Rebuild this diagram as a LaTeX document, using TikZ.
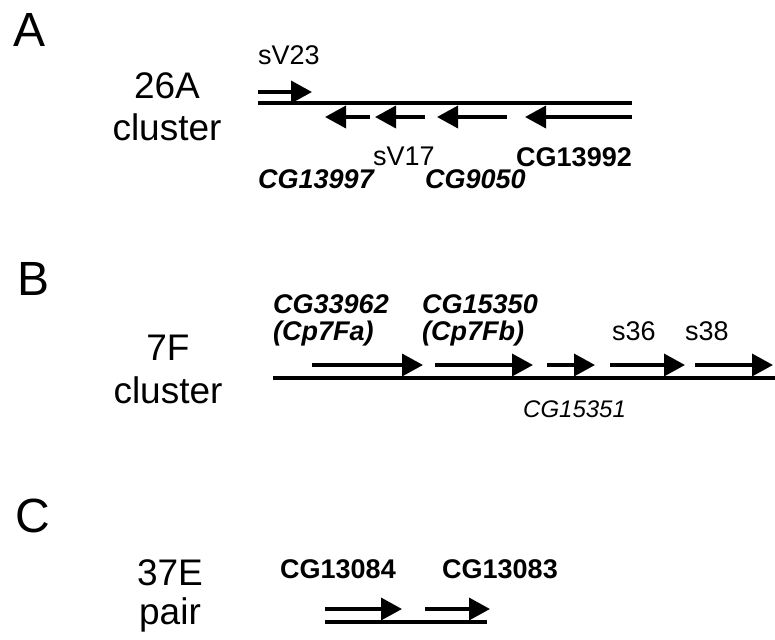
\documentclass[tikz,border=0pt]{standalone}
\usepackage{fontspec}
\setmainfont{Liberation Sans}
\usetikzlibrary{arrows.meta}

\begin{document}
\begin{tikzpicture}[
        x=1pt,
        y=-1pt,
        track/.style={line width=3.6pt},
        gene/.style={line width=3.6pt, -{Triangle[length=21pt,width=22pt]}},
        panel/.style={anchor=base west, inner sep=0pt, font=\fontsize{48}{50}\selectfont},
        locus/.style={anchor=base, inner sep=0pt, font=\fontsize{37}{40}\selectfont},
        lbl/.style={inner sep=0pt, font=\fontsize{27}{30}\selectfont}
    ]
    \useasboundingbox (0,0) rectangle (775,639);

    % Panel A
    \node[panel] (pA) at (13,47) {A};
    \node[locus] (a26) at (167,99) {26A};
    \node[locus] (acl) at (167,141) {cluster};
    \node[lbl, anchor=base west] (sv23) at (258,65) {sV23};
    \draw[gene] (258,92) -- (312,92);
    \draw[track] (258,103) -- (632,103);
    \draw[gene] (370,117) -- (325,117);
    \draw[gene] (425,117) -- (375,117);
    \draw[gene] (507,117) -- (437,117);
    \draw[gene] (632,117) -- (525,117);
    \node[lbl, anchor=base west] (sv17) at (373,165) {sV17};
    \node[lbl, anchor=base east] (cg13992) at (632,166) {\textbf{CG13992}};
    \node[lbl, anchor=base west] (cg13997) at (258,188) {\textbf{\textit{CG13997}}};
    \node[lbl, anchor=base west] (cg9050) at (425,188) {\textbf{\textit{CG9050}}};

    % Panel B
    \node[panel] (pB) at (17,295) {B};
    \node[locus] (b7f) at (168,360) {7F};
    \node[locus] (bcl) at (168,403) {cluster};
    \node[lbl, anchor=base west] (cg33962) at (273,313) {\textbf{\textit{CG33962}}};
    \node[lbl, anchor=base west] (cp7fa) at (273,340) {\textbf{\textit{(Cp7Fa)}}};
    \node[lbl, anchor=base west] (cg15350) at (422,313) {\textbf{\textit{CG15350}}};
    \node[lbl, anchor=base west] (cp7fb) at (422,340) {\textbf{\textit{(Cp7Fb)}}};
    \node[lbl, anchor=base west] (s36) at (612,340) {s36};
    \node[lbl, anchor=base west] (s38) at (685,340) {s38};
    \draw[gene] (312,365) -- (423,365);
    \draw[gene] (435,365) -- (533,365);
    \draw[gene] (547,365) -- (595,365);
    \draw[gene] (610,365) -- (685,365);
    \draw[gene] (695,365) -- (773,365);
    \draw[track] (273,378) -- (775,378);
    \node[lbl, anchor=base west, font=\fontsize{24}{26}\selectfont\itshape] (cg15351) at (523,417) {CG15351};

    % Panel C
    \node[panel] (pC) at (15,532) {C};
    \node[locus] (c37e) at (170,585) {37E};
    \node[locus] (cpair) at (170,624) {pair};
    \node[lbl, anchor=base west] (cg13084) at (280,578) {\textbf{CG13084}};
    \node[lbl, anchor=base west] (cg13083) at (442,578) {\textbf{CG13083}};
    \draw[gene] (325,609) -- (402,609);
    \draw[gene] (425,609) -- (490,609);
    \draw[track] (325,622) -- (487,622);

\end{tikzpicture}
\end{document}
